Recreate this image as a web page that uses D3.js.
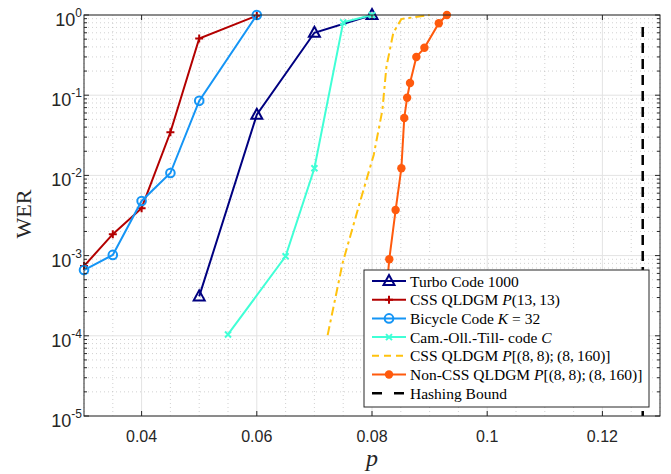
<!DOCTYPE html>
<html>
<head>
<meta charset="utf-8">
<script src="https://cdn.jsdelivr.net/npm/d3@7"></script>
<style>
  body { margin: 0; background: #fff; }
  svg { display: block; }
</style>
</head>
<body>
<svg id="canvas" width="671" height="474"></svg>
<script>
// series data: [p, WER]
const turbo = [[0.05, 3.1e-4], [0.06, 0.057], [0.07, 0.60], [0.08, 1.0]];
const cssP13 = [[0.03, 7.4e-4], [0.035, 1.85e-3], [0.04, 3.9e-3], [0.045, 0.0345], [0.05, 0.51], [0.06, 0.98]];
const bicycle = [[0.03, 6.6e-4], [0.035, 1.02e-3], [0.04, 4.8e-3], [0.045, 0.0107], [0.05, 0.085], [0.06, 1.0]];
const camOllTill = [[0.055, 1.04e-4], [0.065, 9.8e-4], [0.07, 0.0123], [0.075, 0.81], [0.08, 1.0]];
const cssP8 = [[0.0723, 1.02e-4], [0.0749, 8.1e-4], [0.078, 4.9e-3], [0.0803, 0.018], [0.0818, 0.065],
               [0.0825, 0.225], [0.0837, 0.60], [0.0851, 0.89], [0.090, 1.0]];
const nonCssP8 = [[0.0822, 2.0e-4], [0.0830, 9.0e-4], [0.0841, 3.7e-3], [0.0851, 0.0123], [0.0856, 0.052],
                  [0.0861, 0.093], [0.0866, 0.142], [0.0877, 0.30], [0.0891, 0.39], [0.0916, 0.79], [0.0930, 1.0]];
const hashingBound = 0.127;

const xTicks = [0.04, 0.06, 0.08, 0.1, 0.12];
const xTickLabels = ['0.04', '0.06', '0.08', '0.1', '0.12'];
const yDecades = [0, -1, -2, -3, -4, -5];

const SANS = '"Liberation Sans", Arial, Helvetica, sans-serif';
const SERIF = '"Liberation Serif", "Times New Roman", "DejaVu Serif", serif';

// margins & dimensions
const margin = { top: 15, left: 84, right: 11, bottom: 58 };
const W = 671, H = 474;
const width = W - margin.left - margin.right;
const height = H - margin.top - margin.bottom;

const svg = d3.select('#canvas');
const g = svg.append('g').attr('transform', `translate(${margin.left},${margin.top})`);

const x = d3.scaleLinear().domain([0.03, 0.13]).range([0, width]);
const y = d3.scaleLog().domain([1e-5, 1]).range([height, 0]);

// grid: minor dotted
const minorY = [];
yDecades.slice(1).forEach(e => { for (let k = 2; k <= 9; k++) minorY.push(k * Math.pow(10, e)); });
const minorX = d3.range(0.03, 0.1301, 0.005).filter(v => !xTicks.some(t => Math.abs(t - v) < 1e-9));

g.append('g').selectAll('line').data(minorY).join('line')
  .attr('x1', 0).attr('x2', width)
  .attr('y1', d => y(d)).attr('y2', d => y(d))
  .attr('stroke', '#bdbdbd').attr('stroke-width', 0.7).attr('stroke-dasharray', '1,3');
g.append('g').selectAll('line').data(minorX).join('line')
  .attr('y1', 0).attr('y2', height)
  .attr('x1', d => x(d)).attr('x2', d => x(d))
  .attr('stroke', '#bdbdbd').attr('stroke-width', 0.7).attr('stroke-dasharray', '1,3');

// grid: major
g.append('g').selectAll('line').data(yDecades.map(e => Math.pow(10, e))).join('line')
  .attr('x1', 0).attr('x2', width)
  .attr('y1', d => y(d)).attr('y2', d => y(d))
  .attr('stroke', '#e3e3e3').attr('stroke-width', 1);
g.append('g').selectAll('line').data(xTicks).join('line')
  .attr('y1', 0).attr('y2', height)
  .attr('x1', d => x(d)).attr('x2', d => x(d))
  .attr('stroke', '#e3e3e3').attr('stroke-width', 1);

// series
const line = d3.line().x(d => x(d[0])).y(d => y(d[1]));
const plot = g.append('g');

function drawSeries(data, color, opts = {}) {
  plot.append('path').datum(data)
    .attr('d', line).attr('fill', 'none')
    .attr('stroke', color).attr('stroke-width', 2)
    .attr('stroke-dasharray', opts.dash || null);
}

function marker(sel, type, color) {
  if (type === 'tri') {
    sel.append('path').attr('d', 'M0,-6 L5.5,4 L-5.5,4 Z')
      .attr('fill', 'none').attr('stroke', color).attr('stroke-width', 2);
  } else if (type === 'plus') {
    sel.append('path').attr('d', 'M-4,0 H4 M0,-4 V4')
      .attr('stroke', color).attr('stroke-width', 2);
  } else if (type === 'circle') {
    sel.append('circle').attr('r', 4.3)
      .attr('fill', 'none').attr('stroke', color).attr('stroke-width', 2);
  } else if (type === 'x') {
    sel.append('path').attr('d', 'M-3,-3 L3,3 M-3,3 L3,-3')
      .attr('stroke', color).attr('stroke-width', 2);
  } else if (type === 'dot') {
    sel.append('circle').attr('r', 4.2).attr('fill', color);
  }
}

function drawMarkers(data, type, color) {
  data.forEach(d => {
    const m = plot.append('g').attr('transform', `translate(${x(d[0])},${y(d[1])})`);
    marker(m, type, color);
  });
}

const cNavy = '#000080', cRed = '#b30000', cBlue = '#1595f5', cCyan = '#40ffd6',
      cGold = '#ffc20e', cOrange = '#ff5a0d';

drawSeries(turbo, cNavy);
drawMarkers(turbo, 'tri', cNavy);
drawSeries(cssP13, cRed);
drawMarkers(cssP13, 'plus', cRed);
drawSeries(bicycle, cBlue);
drawMarkers(bicycle, 'circle', cBlue);
drawSeries(camOllTill, cCyan);
drawMarkers(camOllTill, 'x', cCyan);
drawSeries(cssP8, cGold, { dash: '9,4,3,4' });
drawSeries(nonCssP8, cOrange);
drawMarkers(nonCssP8, 'dot', cOrange);

// hashing bound
g.append('line')
  .attr('x1', x(hashingBound)).attr('x2', x(hashingBound))
  .attr('y1', 12).attr('y2', height)
  .attr('stroke', '#000').attr('stroke-width', 2.5).attr('stroke-dasharray', '10,6');

// axes box
g.append('rect').attr('width', width).attr('height', height)
  .attr('fill', 'none').attr('stroke', '#262626').attr('stroke-width', 1);

// ticks (inside)
const tk = g.append('g').attr('stroke', '#262626').attr('stroke-width', 1);
xTicks.forEach(t => {
  tk.append('line').attr('x1', x(t)).attr('x2', x(t)).attr('y1', height).attr('y2', height - 5);
  tk.append('line').attr('x1', x(t)).attr('x2', x(t)).attr('y1', 0).attr('y2', 5);
});
yDecades.forEach(e => {
  const v = y(Math.pow(10, e));
  tk.append('line').attr('x1', 0).attr('x2', 5).attr('y1', v).attr('y2', v);
  tk.append('line').attr('x1', width).attr('x2', width - 5).attr('y1', v).attr('y2', v);
});
minorY.forEach(m => {
  const v = y(m);
  tk.append('line').attr('x1', 0).attr('x2', 3).attr('y1', v).attr('y2', v);
  tk.append('line').attr('x1', width).attr('x2', width - 3).attr('y1', v).attr('y2', v);
});

// tick labels
xTicks.forEach((t, i) => {
  g.append('text').attr('font-family', SANS).attr('font-size', 16).attr('fill', '#262626')
    .attr('x', x(t)).attr('y', height + 26)
    .attr('text-anchor', 'middle').text(xTickLabels[i]);
});
yDecades.forEach(e => {
  const t = g.append('text').attr('font-family', SANS).attr('font-size', 18).attr('fill', '#262626')
    .attr('x', -2).attr('y', y(Math.pow(10, e)) + 11)
    .attr('text-anchor', 'end');
  t.append('tspan').text('10');
  t.append('tspan').attr('dy', -9).attr('font-size', 12).text(e === 0 ? '0' : '-' + (-e));
});

// axis labels
svg.append('text').attr('font-family', SERIF)
  .attr('transform', 'translate(31,214) rotate(-90)')
  .attr('text-anchor', 'middle').attr('font-size', 22).attr('fill', '#262626').text('WER');
svg.append('text').attr('font-family', SERIF)
  .attr('x', margin.left + x(0.08)).attr('y', 466)
  .attr('text-anchor', 'middle').attr('font-size', 24).attr('font-style', 'italic')
  .attr('fill', '#262626').text('p');

// legend
const legendItems = [
  { parts: [['Turbo Code 1000']], color: cNavy, mk: 'tri' },
  { parts: [['CSS QLDGM '], ['P', 'i'], ['(13,\u200913)']], color: cRed, mk: 'plus' },
  { parts: [['Bicycle Code '], ['K', 'i'], [' = 32']], color: cBlue, mk: 'circle' },
  { parts: [['Cam.-Oll.-Till- code '], ['C', 'i']], color: cCyan, mk: 'x' },
  { parts: [['CSS QLDGM '], ['P', 'i'], ['[(8,\u20098);\u2009(8,\u2009160)]']], color: cGold, dash: '7,5' },
  { parts: [['Non-CSS QLDGM '], ['P', 'i'], ['[(8,\u20098);\u2009(8,\u2009160)]']], color: cOrange, mk: 'dot' },
  { parts: [['Hashing Bound']], color: '#000', dash: '10,12', sw: 2.5 }
];
const lg = svg.append('g').attr('transform', 'translate(364,270)');
lg.append('rect').attr('width', 285).attr('height', 137)
  .attr('fill', '#fff').attr('stroke', '#262626').attr('stroke-width', 1);
legendItems.forEach((it, i) => {
  const cy = 11 + i * 18.7;
  lg.append('line').attr('x1', 8).attr('x2', 42).attr('y1', cy).attr('y2', cy)
    .attr('stroke', it.color).attr('stroke-width', it.sw || 2)
    .attr('stroke-dasharray', it.dash || null);
  if (it.mk) marker(lg.append('g').attr('transform', `translate(25,${cy})`), it.mk, it.color);
  const t = lg.append('text').attr('font-family', SERIF)
    .attr('x', 46).attr('y', cy + 5.5).attr('font-size', 15.5).attr('fill', '#000');
  it.parts.forEach(p => {
    const ts = t.append('tspan').text(p[0]);
    if (p[1] === 'i') ts.attr('font-style', 'italic');
  });
});
</script>
</body>
</html>
